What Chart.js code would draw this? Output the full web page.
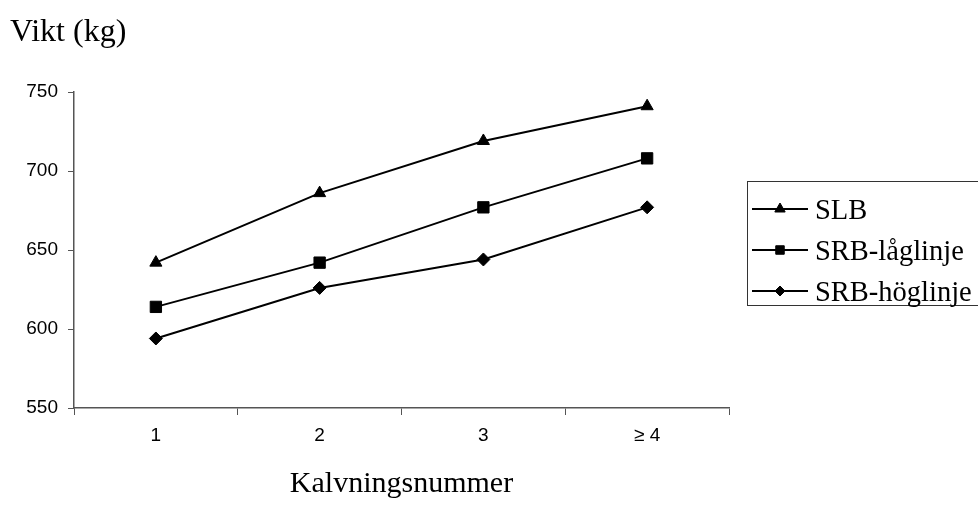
<!DOCTYPE html>
<html>
<head>
<meta charset="utf-8">
<script src="https://cdn.jsdelivr.net/npm/chart.js@4/dist/chart.umd.min.js"></script>
<style>
  html, body { margin: 0; padding: 0; background: #fff; }
  #wrap { width: 978px; height: 511px; position: relative; }
</style>
</head>
<body>
<div id="wrap"><canvas id="c" width="978" height="511"></canvas></div>
<script>
const categories = ['1', '2', '3', '\u2265 4'];
const seriesNames = ['SLB', 'SRB-l\u00e5glinje', 'SRB-h\u00f6glinje'];
const slb = [642, 686, 719, 741];
const srbLag = [614, 642, 677, 708];
const srbHog = [594, 626, 644, 677];
const yTicks = [550, 600, 650, 700, 750];
const yTitle = 'Vikt (kg)';
const xTitle = 'Kalvningsnummer';

const pointStyles = ['triangle', 'rect', 'rectRot'];
const pointRadii = [7, 8, 6.5];
const legendRadii = [6, 6, 5];
const seriesValues = [slb, srbLag, srbHog];

const datasets = seriesNames.map((name, i) => ({
  label: name,
  data: seriesValues[i],
  borderColor: '#000',
  backgroundColor: '#000',
  borderWidth: 2,
  pointStyle: pointStyles[i],
  pointRadius: pointRadii[i],
  pointBorderWidth: 1,
  pointBackgroundColor: '#000',
  pointBorderColor: '#000',
  tension: 0,
  fill: false
}));

const AXIS_COLOR = '#555';
const SERIF = '"Liberation Serif", "Times New Roman", serif';

const decor = {
  id: 'decor',
  afterDraw(chart) {
    const ctx = chart.ctx;
    ctx.save();
    ctx.fillStyle = '#000';
    ctx.font = '32px ' + SERIF;
    ctx.textAlign = 'left';
    ctx.textBaseline = 'alphabetic';
    ctx.fillText(yTitle, 10, 41);
    const xs = chart.scales.x;
    ctx.font = '30px ' + SERIF;
    ctx.textAlign = 'center';
    ctx.fillText(xTitle, (xs.left + xs.right) / 2, 492);

    // legend box
    ctx.strokeStyle = '#333';
    ctx.lineWidth = 1;
    ctx.strokeRect(747.5, 181.5, 300, 124);
    const rows = [209, 250, 291];
    ctx.font = '28.5px ' + SERIF;
    ctx.textAlign = 'left';
    chart.data.datasets.forEach((ds, i) => {
      const y = rows[i];
      ctx.strokeStyle = '#000';
      ctx.lineWidth = 2;
      ctx.beginPath();
      ctx.moveTo(752, y);
      ctx.lineTo(808, y);
      ctx.stroke();
      ctx.fillStyle = '#000';
      ctx.strokeStyle = '#000';
      ctx.lineWidth = 1;
      Chart.helpers.drawPoint(ctx, {
        pointStyle: ds.pointStyle,
        radius: legendRadii[i],
        rotation: 0,
        borderWidth: 1
      }, 780, y);
      ctx.fillStyle = '#000';
      ctx.fillText(ds.label, 815, y + 9.5);
    });
    ctx.restore();
  }
};

new Chart(document.getElementById('c'), {
  type: 'line',
  data: { labels: categories, datasets },
  plugins: [decor],
  options: {
    responsive: false,
    animation: false,
    devicePixelRatio: 1,
    layout: { padding: { left: 0, top: 92, right: 249, bottom: 63 } },
    plugins: { legend: { display: false }, tooltip: { enabled: false } },
    scales: {
      x: {
        type: 'category',
        offset: true,
        grid: { offset: true, drawOnChartArea: false, drawTicks: true, tickLength: 7, color: AXIS_COLOR },
        border: { display: true, color: AXIS_COLOR, width: 1.5 },
        ticks: { color: '#000', font: { family: '"Liberation Sans", Arial, sans-serif', size: 19 }, padding: 9, maxRotation: 0 },
        afterFit(s) { s.height = 40; }
      },
      y: {
        min: 550,
        max: 750,
        afterBuildTicks(s) { s.ticks = yTicks.map(v => ({ value: v })); },
        grid: { drawOnChartArea: false, drawTicks: true, tickLength: 6, color: AXIS_COLOR },
        border: { display: true, color: AXIS_COLOR, width: 1.5 },
        ticks: { color: '#000', font: { family: '"Liberation Sans", Arial, sans-serif', size: 19 }, padding: 10 },
        afterFit(s) { s.width = 74; }
      }
    }
  }
});
</script>
</body>
</html>
